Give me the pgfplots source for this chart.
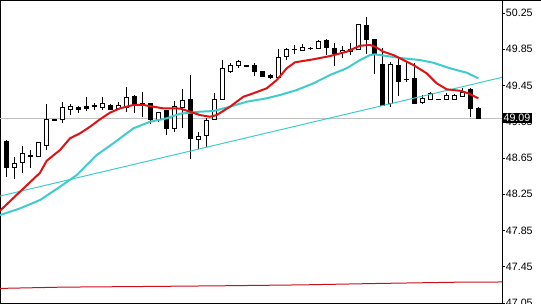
\documentclass[border=0pt]{standalone}
\usepackage{pgfplots}
\pgfplotsset{compat=1.18}
\usepackage{pgfplotstable}
\usepackage{fontspec}
\setmainfont{Liberation Sans}
\definecolor{maRed}{RGB}{222,18,18}
\definecolor{maCyan}{RGB}{64,204,204}
\definecolor{bidGrey}{RGB}{192,192,192}
\definecolor{lowRed}{RGB}{200,16,30}

\pgfplotstableread{
i o h l c
1 48.83 48.85 48.44 48.54
2 48.55 48.66 48.42 48.59
3 48.60 48.78 48.48 48.70
4 48.67 48.74 48.54 48.68
5 48.67 48.83 48.66 48.82
6 48.79 49.25 48.74 49.08
7 49.07 49.08 49.06 49.07
8 49.08 49.27 49.04 49.21
9 49.19 49.25 49.12 49.22
10 49.21 49.22 49.15 49.19
11 49.22 49.32 49.17 49.20
12 49.23 49.26 49.18 49.22
13 49.21 49.32 49.18 49.25
14 49.23 49.25 49.18 49.19
15 49.20 49.27 49.18 49.23
16 49.21 49.43 49.16 49.32
17 49.33 49.35 49.15 49.25
18 49.25 49.38 49.10 49.25
19 49.25 49.26 49.03 49.08
20 49.08 49.16 49.05 49.15
21 49.17 49.18 48.90 48.98
22 48.98 49.28 48.94 49.22
23 49.21 49.41 48.98 49.29
24 49.30 49.57 48.64 48.86
25 48.85 48.94 48.75 48.89
26 48.90 49.09 48.77 49.06
27 49.08 49.37 49.07 49.30
28 49.30 49.73 49.29 49.64
29 49.61 49.70 49.59 49.67
30 49.67 49.73 49.64 49.72
31 49.67 49.67 49.66 49.665
32 49.67 49.70 49.55 49.60
33 49.60 49.61 49.54 49.55
34 49.56 49.58 49.52 49.54
35 49.54 49.85 49.53 49.76
36 49.77 49.86 49.73 49.85
37 49.845 49.90 49.80 49.85
38 49.84 49.91 49.83 49.87
39 49.86 49.88 49.84 49.86
40 49.86 49.95 49.85 49.94
41 49.95 49.96 49.79 49.87
42 49.86 49.92 49.66 49.80
43 49.82 49.89 49.75 49.84
44 49.83 49.92 49.79 49.85
45 49.85 50.12 49.84 50.12
46 50.11 50.21 49.80 49.96
47 49.96 49.96 49.58 49.79
48 49.68 49.86 49.22 49.23
49 49.25 49.71 49.21 49.68
50 49.67 49.77 49.33 49.49
51 49.52 49.71 49.49 49.515
52 49.53 49.70 49.25 49.25
53 49.26 49.35 49.25 49.31
54 49.30 49.38 49.29 49.36
55 49.30 49.30 49.30 49.30
56 49.30 49.37 49.29 49.345
57 49.30 49.36 49.29 49.34
58 49.33 49.42 49.32 49.375
59 49.41 49.42 49.10 49.20
60 49.20 49.21 49.09 49.09
}\candles

\begin{document}
\begin{tikzpicture}[x=0.75pt,y=0.75pt]
\useasboundingbox (0,0) rectangle (541,303);
\begin{axis}[
  at={(0,0)}, anchor=south west,
  scale only axis, width=376.5pt, height=227.25pt,
  xmin=0.21, xmax=62.96, ymin=47.05, ymax=50.3935,
  axis line style={black, line width=0.75pt},
  xtick=\empty,
  ytick={47.05,47.45,47.85,48.25,48.65,49.05,49.45,49.85,50.25},
  yticklabel pos=right,
  ytick align=outside,
  major tick length=2.25pt,
  tick style={black, line width=0.75pt},
  yticklabel style={font=\fontsize{8}{9}\selectfont, inner sep=0pt, anchor=west, xshift=0.5pt,
    /pgf/number format/.cd, fixed, fixed zerofill, precision=2, assume math mode=true},
  clip mode=individual,
]
% bid line
\addplot[bidGrey, line width=0.75pt] coordinates {(0.21,49.09) (62.96,49.09)};
% long-period MA near the bottom
\addplot[lowRed, line width=0.75pt] coordinates {
(0.21,47.211) (8,47.225) (18,47.232) (28,47.24) (38,47.25) (47,47.265) (57,47.279) (62.96,47.282)};
% wicks
\addplot[draw=none, error bars/.cd, y dir=both, y explicit, error mark=none,
  error bar style={draw=black, line width=0.75pt}]
  table[x=i, y expr={(\thisrow{h}+\thisrow{l})/2}, y error expr={(\thisrow{h}-\thisrow{l})/2}] {\candles};
% bodies (black outline / filled)
\addplot[draw=none, error bars/.cd, y dir=both, y explicit, error mark=none,
  error bar style={draw=black, line width=3.75pt}]
  table[x=i, y expr={(\thisrow{o}+\thisrow{c})/2}, y error expr={abs(\thisrow{c}-\thisrow{o})/2+0.0055}] {\candles};
% white inside of rising candles
\addplot[draw=none, error bars/.cd, y dir=both, y explicit, error mark=none,
  error bar style={draw=white, line width=2.25pt}]
  table[x=i, y expr={(\thisrow{o}+\thisrow{c})/2}, y error expr={max((\thisrow{c}-\thisrow{o})/2-0.0055,0)}] {\candles};
% trend line
\addplot[maCyan, line width=0.75pt] coordinates {(0.21,48.230) (62.96,49.540)};
% slow MA (cyan)
\addplot[maCyan, line width=1.5pt] coordinates {
(0.21,48.020) (2.71,48.094) (5.21,48.186) (7.71,48.333) (9.8,48.462) (12.3,48.683)
(14.38,48.812) (16.88,48.977) (18.96,49.050) (21.05,49.088) (22.71,49.139) (25.21,49.161)
(26.88,49.168) (28.96,49.216) (31.05,49.271) (33.55,49.309) (35.21,49.345) (37.3,49.400)
(39.38,49.474) (41.46,49.566) (43.55,49.640) (45.21,49.731) (46.46,49.786) (47.09,49.794)
(48.55,49.775) (50.63,49.750) (52.71,49.731) (54.38,49.701) (56.46,49.640) (58.55,49.591)
(60,49.529)};
% fast MA (red)
\addplot[maRed, line width=1.5pt] coordinates {
(0.21,48.068) (2.71,48.278) (5.21,48.487) (6.05,48.620) (7.71,48.738) (8.96,48.867)
(10.21,48.922) (11.46,48.995) (12.71,49.077) (13.96,49.150) (15.21,49.198) (16.88,49.235)
(18.13,49.235) (19.38,49.216) (20.63,49.198) (22.71,49.196) (23.96,49.161) (25.21,49.124)
(26.46,49.105) (27.3,49.124) (28.96,49.216) (30.63,49.326) (31.88,49.364) (33.55,49.419)
(34.8,49.510) (36.05,49.640) (37.09,49.706) (39.38,49.739) (41.46,49.775) (43.55,49.823)
(45.21,49.889) (46.46,49.897) (47.09,49.878) (48.13,49.823) (49.38,49.786) (50.63,49.731)
(51.88,49.676) (53.55,49.584) (54.8,49.474) (56.05,49.408) (57.71,49.392) (58.75,49.364)
(60,49.308)};
\coordinate (bid) at (axis cs:62.96,49.09);
\end{axis}
\node[fill=black, text=white, anchor=west, inner xsep=1pt, inner ysep=1pt,
  font=\fontsize{8}{9}\selectfont] at (bid) {49.09};
\draw[black, line width=0.75pt] (0,302.6) -- (541,302.6);
\end{tikzpicture}
\end{document}
